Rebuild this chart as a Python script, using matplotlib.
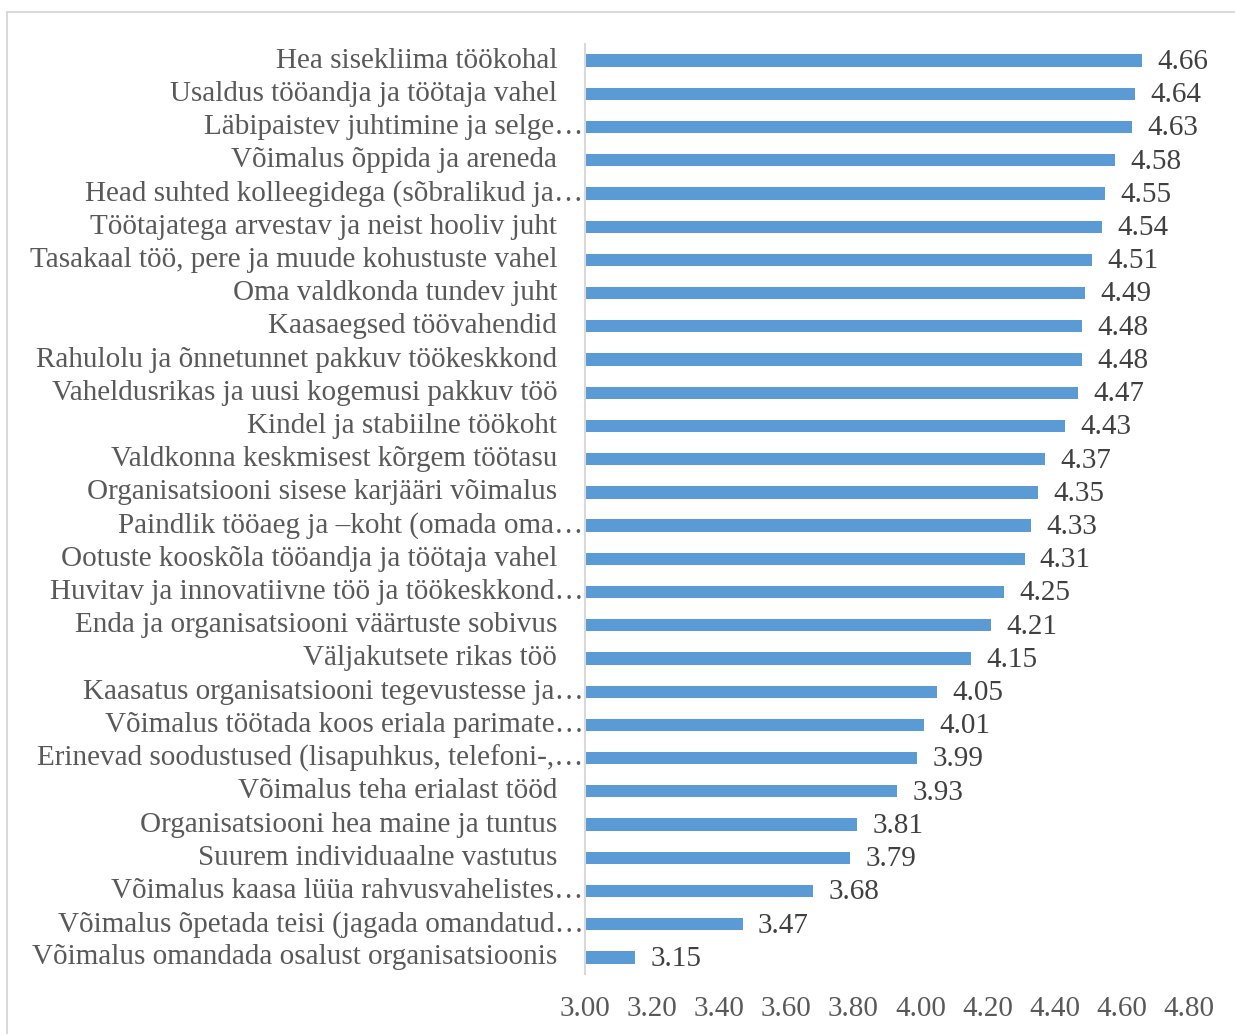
import matplotlib.pyplot as plt
from matplotlib.patches import Rectangle
import matplotlib.transforms as mtransforms

labels = [
    "Hea sisekliima töökohal",
    "Usaldus tööandja ja töötaja vahel",
    "Läbipaistev juhtimine ja selge…",
    "Võimalus õppida ja areneda",
    "Head suhted kolleegidega (sõbralikud ja…",
    "Töötajatega arvestav ja neist hooliv juht",
    "Tasakaal töö, pere ja muude kohustuste vahel",
    "Oma valdkonda tundev juht",
    "Kaasaegsed töövahendid",
    "Rahulolu ja õnnetunnet pakkuv töökeskkond",
    "Vaheldusrikas ja uusi kogemusi pakkuv töö",
    "Kindel ja stabiilne töökoht",
    "Valdkonna keskmisest kõrgem töötasu",
    "Organisatsiooni sisese karjääri võimalus",
    "Paindlik tööaeg ja –koht (omada oma…",
    "Ootuste kooskõla tööandja ja töötaja vahel",
    "Huvitav ja innovatiivne töö ja töökeskkond…",
    "Enda ja organisatsiooni väärtuste sobivus",
    "Väljakutsete rikas töö",
    "Kaasatus organisatsiooni tegevustesse ja…",
    "Võimalus töötada koos eriala parimate…",
    "Erinevad soodustused (lisapuhkus, telefoni-,…",
    "Võimalus teha erialast tööd",
    "Organisatsiooni hea maine ja tuntus",
    "Suurem individuaalne vastutus",
    "Võimalus kaasa lüüa rahvusvahelistes…",
    "Võimalus õpetada teisi (jagada omandatud…",
    "Võimalus omandada osalust organisatsioonis",
]
values = [4.66, 4.64, 4.63, 4.58, 4.55, 4.54, 4.51, 4.49, 4.48, 4.48,
          4.47, 4.43, 4.37, 4.35, 4.33, 4.31, 4.25, 4.21, 4.15, 4.05,
          4.01, 3.99, 3.93, 3.81, 3.79, 3.68, 3.47, 3.15]
xticks = [3.00, 3.20, 3.40, 3.60, 3.80, 4.00, 4.20, 4.40, 4.60, 4.80]

plt.rcParams['font.family'] = ['Liberation Serif', 'DejaVu Serif']
FS = 21
W, H = 1235, 1034
fig = plt.figure(figsize=(W / 100, H / 100), dpi=100)
ax = fig.add_axes([585 / W, 1 - 974 / H, (1189 - 585) / W, (974 - 44) / H])

# chart frame
fig.patches.append(Rectangle((7 / W, -0.01), 1.1, 1 - 12 / H + 0.01,
                             transform=fig.transFigure, fill=False,
                             edgecolor='#D9D9D9', lw=1.5))

n = len(labels)
ypos = list(range(n - 1, -1, -1))
base = xticks[0]
ax.barh(ypos, [v - base for v in values], left=base, height=0.37,
        color='#5B9BD5', edgecolor='none')

ax.set_xlim(xticks[0], xticks[-1])
ax.set_ylim(-0.5, n - 0.5)
ax.set_xticks(xticks)
ax.set_xticklabels([f"{t:.2f}" for t in xticks], fontsize=FS, color='#595959')
ax.tick_params(axis='x', length=0, pad=16)
ax.set_yticks([])
for s in ['top', 'right', 'bottom']:
    ax.spines[s].set_visible(False)
ax.spines['left'].set_color('#D9D9D9')
ax.spines['left'].set_linewidth(1.5)

# category labels; truncated ones run right up to the axis
ytrans = mtransforms.blended_transform_factory(ax.transAxes, ax.transData)
for y, lab in zip(ypos, labels):
    off = -1 if lab.endswith('…') else -20
    tr = mtransforms.offset_copy(ytrans, fig=fig, x=off, y=0, units='points')
    ax.text(0, y, lab, transform=tr, ha='right', va='center',
            fontsize=FS, color='#595959')

for y, v in zip(ypos, values):
    ax.annotate(f"{v:.2f}", (v, y), xytext=(11, -1), textcoords='offset points',
                ha='left', va='center', fontsize=FS, color='#404040')

fig.savefig('out.png', dpi=100)
